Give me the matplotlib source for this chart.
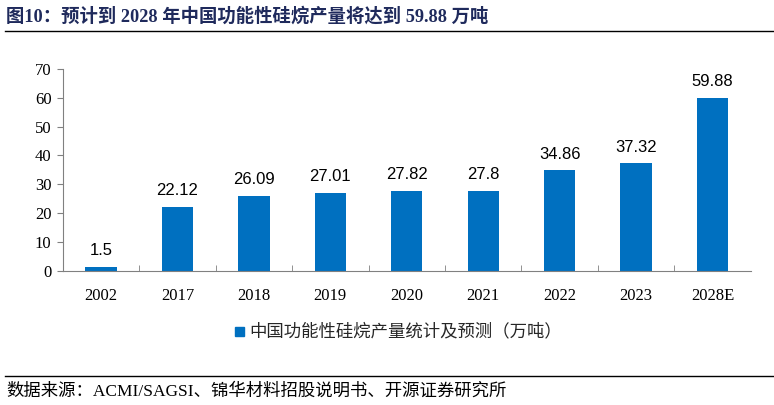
import matplotlib
matplotlib.use("Agg")
import matplotlib.pyplot as plt
from matplotlib.lines import Line2D
from matplotlib.patches import Rectangle

# data
years = ["2002", "2017", "2018", "2019", "2020", "2021", "2022", "2023", "2028E"]
output = [1.5, 22.12, 26.09, 27.01, 27.82, 27.8, 34.86, 37.32, 59.88]
labels = ["1.5", "22.12", "26.09", "27.01", "27.82", "27.8", "34.86", "37.32", "59.88"]
yticks = [0, 10, 20, 30, 40, 50, 60, 70]

title = "图10：预计到 2028 年中国功能性硅烷产量将达到 59.88 万吨"
legend_text = "中国功能性硅烷产量统计及预测（万吨）"
source = "数据来源：ACMI/SAGSI、锦华材料招股说明书、开源证券研究所"

serif = ["Liberation Serif", "Noto Sans CJK SC"]
cjk = ["Noto Sans CJK SC", "DejaVu Sans"]
blue = "#0070C0"

fig = plt.figure(figsize=(7.74, 4.05), dpi=100)
ax = fig.add_axes([0.081, 0.331, 0.889, 0.499])

x = range(len(years))
bars = ax.bar(x, output, width=0.41, color=blue, zorder=2)
for b, t in zip(bars, labels):
    ax.text(b.get_x() + b.get_width() / 2, b.get_height() + 3.0, t,
            ha="center", va="bottom", fontsize=12, family="Liberation Sans")

ax.set_xlim(-0.5, len(years) - 0.5)
ax.set_ylim(0, 70)
ax.set_yticks(yticks)
ax.set_yticklabels([str(v) for v in yticks], family=serif, fontsize=12)
ax.set_xticks(list(x))
ax.set_xticklabels(years, family=serif, fontsize=12)
ax.tick_params(axis="x", length=0, pad=12)
ax.set_xticks([i + 0.5 for i in range(len(years) - 1)], minor=True)
ax.tick_params(axis="x", which="minor", length=4, direction="in", color="#808080")
ax.tick_params(axis="y", length=4, direction="out", color="#808080", pad=4)
for s in ["top", "right"]:
    ax.spines[s].set_visible(False)
ax.spines["left"].set_color("#808080")
ax.spines["bottom"].set_color("#808080")

# legend
fig.patches.append(Rectangle((235 / 774, 1 - 336 / 405), 9 / 774, 9 / 405,
                             transform=fig.transFigure, color=blue))
fig.text(249 / 774, 1 - 331 / 405, legend_text, family=cjk, fontsize=12.5,
         va="center", ha="left", color="#262626")

# title and rules
fig.text(6 / 774, 1 - 16 / 405, title, family=serif, fontsize=13.2, fontweight="bold",
         color="#1F2A5C", va="center", ha="left")
fig.lines.append(Line2D([5 / 774, 1], [1 - 31 / 405] * 2, transform=fig.transFigure,
                        color="black", lw=1))
fig.lines.append(Line2D([5 / 774, 1], [1 - 376 / 405] * 2, transform=fig.transFigure,
                        color="black", lw=1))
fig.text(6 / 774, 1 - 391 / 405, source, family=serif, fontsize=12.5,
         va="center", ha="left", color="black")

fig.savefig("out.png", dpi=100)
